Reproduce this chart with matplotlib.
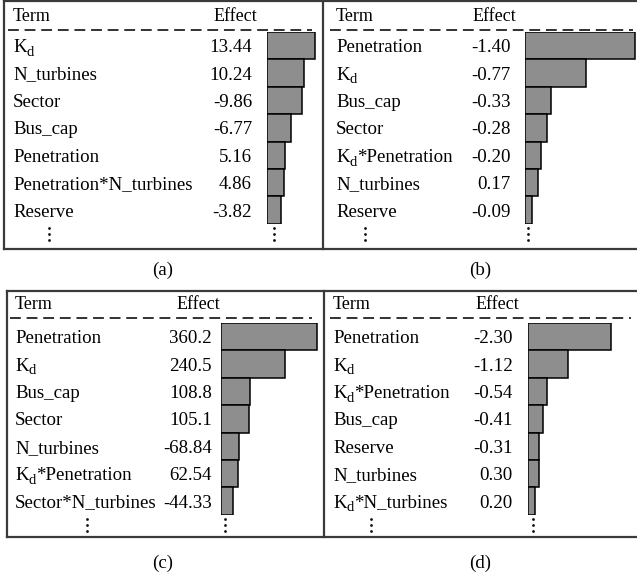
import matplotlib
matplotlib.use("Agg")
import matplotlib.pyplot as plt

plt.rcParams['font.family'] = ['Liberation Serif', 'DejaVu Serif']

# ---- data ----
terms_a = ['K$_\\mathrm{d}$', 'N_turbines', 'Sector', 'Bus_cap', 'Penetration',
           'Penetration*N_turbines', 'Reserve']
effects_a = [13.44, 10.24, -9.86, -6.77, 5.16, 4.86, -3.82]

terms_b = ['Penetration', 'K$_\\mathrm{d}$', 'Bus_cap', 'Sector',
           'K$_\\mathrm{d}$*Penetration', 'N_turbines', 'Reserve']
effects_b = [-1.40, -0.77, -0.33, -0.28, -0.20, 0.17, -0.09]

terms_c = ['Penetration', 'K$_\\mathrm{d}$', 'Bus_cap', 'Sector', 'N_turbines',
           'K$_\\mathrm{d}$*Penetration', 'Sector*N_turbines']
effects_c = [360.2, 240.5, 108.8, 105.1, -68.84, 62.54, -44.33]

terms_d = ['Penetration', 'K$_\\mathrm{d}$', 'K$_\\mathrm{d}$*Penetration', 'Bus_cap',
           'Reserve', 'N_turbines', 'K$_\\mathrm{d}$*N_turbines']
effects_d = [-2.30, -1.12, -0.54, -0.41, -0.31, 0.30, 0.20]

panel_labels = ['(a)', '(b)', '(c)', '(d)']
header_term = 'Term'
header_effect = 'Effect'

W, H = 637, 579
fig = plt.figure(figsize=(W / 100, H / 100), dpi=100)
ov = fig.add_axes([0, 0, 1, 1])
ov.set_xlim(0, W)
ov.set_ylim(H, 0)
ov.axis('off')
renderer = fig.canvas.get_renderer()

BAR = '#8e8e8e'
FR = '#3a3a3a'
FS = 13.6
FAM = 'Liberation Serif'
SUB = '$_\\mathrm{d}$'


def draw_term(x, yb, s):
    """Draw a term, rendering the K_d subscript lowered like the original."""
    pieces = s.split(SUB)
    cx = x
    for j, piece in enumerate(pieces):
        if piece:
            t = ov.text(cx, yb, piece, fontsize=FS, va='baseline', ha='left', family=FAM)
            cx += t.get_window_extent(renderer).width
        if j < len(pieces) - 1:
            t = ov.text(cx + 0.3, yb + 3.8, 'd', fontsize=10.5, va='baseline', ha='left',
                        family=FAM)
            cx += t.get_window_extent(renderer).width + 0.6


panels = [
    dict(terms=terms_a, eff=effects_a, fmt='{:.2f}', term_x=13, eff_cx=235, num_r=252,
         bar_x=267, scale=3.57, dash=(8, 312), top=0, rowtop=32, right=323,
         dots_t=49, dots_b=274, lab=(163, 270)),
    dict(terms=terms_b, eff=effects_b, fmt='{:.2f}', term_x=336, eff_cx=494, num_r=511,
         bar_x=525, scale=78.6, dash=(330, 633), top=0, rowtop=32, right=660,
         dots_t=365, dots_b=528, lab=(480, 270)),
    dict(terms=terms_c, eff=effects_c, fmt='{:.4g}', term_x=15, eff_cx=198, num_r=212,
         bar_x=221, scale=0.2666, dash=(10, 312), top=288, rowtop=323, right=324,
         dots_t=87, dots_b=225, lab=(163, 563)),
    dict(terms=terms_d, eff=effects_d, fmt='{:.2f}', term_x=333, eff_cx=497, num_r=513,
         bar_x=528, scale=36.1, dash=(330, 631), top=288, rowtop=323, right=660,
         dots_t=371, dots_b=533, lab=(480, 563)),
]
ROWH = 27.4

for p, lab in zip(panels, panel_labels):
    n = len(p['terms'])
    head_y = p['top'] + 15
    ov.text(p['term_x'], head_y + 6, header_term, fontsize=13, va='baseline',
            ha='left', family=FAM)
    ov.text(p['eff_cx'], head_y + 6, header_effect, fontsize=13, va='baseline',
            ha='center', family=FAM)
    ov.plot(p['dash'], [p['top'] + 29.5] * 2, color='#222222', lw=1.3,
            dashes=(6, 3.2), solid_capstyle='butt')
    for i, (t, v) in enumerate(zip(p['terms'], p['eff'])):
        yc = p['rowtop'] + (i + 0.5) * ROWH
        draw_term(p['term_x'], yc + 6.5, t)
        ov.text(p['num_r'], yc + 6.5, p['fmt'].format(v), fontsize=FS,
                va='baseline', ha='right', family=FAM)
    bw = p['right'] - p['bar_x']
    bh = n * ROWH
    axb = fig.add_axes([p['bar_x'] / W, 1 - (p['rowtop'] + bh) / H, bw / W, bh / H])
    axb.barh(range(n), [abs(v) for v in p['eff']], height=1.0, left=0,
             color=BAR, edgecolor='black', linewidth=1.1)
    axb.set_xlim(0, bw / p['scale'])
    axb.set_ylim(n - 0.5, -0.5)
    axb.axis('off')
    ydots = p['rowtop'] + bh + 4
    for xd in (p['dots_t'], p['dots_b']):
        for k in range(3):
            ov.plot(xd, ydots + k * 6, marker='o', ms=2.0, color='#111111', mec='none')
    ov.text(p['lab'][0], p['lab'][1], lab, fontsize=FS, ha='center', va='center',
            family=FAM)


def frame(x0, xm, x1, y0, y1):
    kw = dict(color=FR, lw=1.6, solid_capstyle='projecting')
    ov.plot([x0, x1], [y0, y0], **kw)
    ov.plot([x0, x1], [y1, y1], **kw)
    ov.plot([x0, x0], [y0, y1], **kw)
    ov.plot([xm, xm], [y0, y1], **kw)


frame(4, 323, 640, 1, 249)
frame(7, 324, 640, 291, 537)

fig.savefig('out.png', dpi=100)
